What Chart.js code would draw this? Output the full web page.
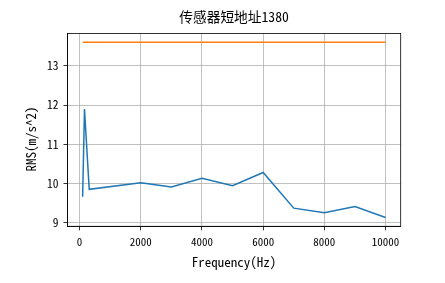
<!DOCTYPE html>
<html>
 <head>
  <title>传感器短地址1380</title>
  <style>
  body { margin: 0; background: #fff; }
  #wrap { width: 445px; height: 283px; }
  </style>
 </head>
 <body>
 <div id="wrap"><canvas id="chart-rms"></canvas></div>
 <script src="https://cdn.jsdelivr.net/npm/chart.js@4.4.0/dist/chart.umd.min.js"></script>
 <script>
 // values
 const freqs = [100, 160, 315, 2000, 3000, 4000, 5000, 6000, 7000, 8000, 9000, 10000];
 const rms = [9.66, 11.90, 9.85, 10.02, 9.91, 10.13, 9.94, 10.28, 9.37, 9.25, 9.41, 9.13];
 const limitFreqs = [100, 10000];
 const limitRms = [13.6, 13.6];
 const xTicks = [0, 2000, 4000, 6000, 8000, 10000];
 const yTicks = [9, 10, 11, 12, 13];
 const titleText = '传感器短地址1380';
 const xLabel = 'Frequency(Hz)';
 const yLabel = 'RMS(m/s^2)';

 // SimHei-like look: half-width monospace latin
 const fam = '"Noto Sans Mono CJK SC", "DejaVu Sans Mono", "Noto Sans CJK SC", monospace';

 // frame round the plot + title and y label, placed like matplotlib does
 const decor = {
  id: 'decor',
  afterDraw(chart) {
   const a = chart.chartArea, ctx = chart.ctx;
   ctx.save();
   ctx.strokeStyle = '#000';
   ctx.lineWidth = 0.8;
   ctx.strokeRect(a.left, a.top, a.right - a.left, a.bottom - a.top);
   ctx.fillStyle = '#000';
   ctx.textAlign = 'center';
   ctx.textBaseline = 'middle';
   ctx.font = '13.7px ' + fam;
   ctx.fillText(titleText, (a.left + a.right) / 2, 17);
   ctx.translate(31.5, 139);
   ctx.rotate(-Math.PI / 2);
   ctx.font = '13px ' + fam;
   ctx.fillText(yLabel, 0, 0);
   ctx.restore();
  }
 };

 const ctx = document.getElementById('chart-rms').getContext('2d');
 const chart = new Chart(ctx, {
  type: 'line',
  data: {
   datasets: [{
    data: freqs.map((f, i) => ({x: f, y: rms[i]})),
    borderColor: '#1f77b4',
    borderWidth: 1.5,
    pointRadius: 0,
    fill: false
   }, {
    data: limitFreqs.map((f, i) => ({x: f, y: limitRms[i]})),
    borderColor: '#ff7f0e',
    borderWidth: 1.5,
    pointRadius: 0,
    fill: false
   }]
  },
  options: {
   responsive: true,
   maintainAspectRatio: false,
   animation: false,
   devicePixelRatio: 1,
   layout: { padding: { left: 0, right: 44.3, top: 33.5, bottom: 0 } },
   plugins: {
    legend: { display: false },
    tooltip: { enabled: false },
    title: { display: false }
   },
   scales: {
    x: {
     type: 'linear',
     min: -395,
     max: 10495,
     afterBuildTicks: s => { s.ticks = xTicks.map(v => ({value: v})); },
     afterFit: s => { s.height = 56.7; },
     grid: { color: '#b0b0b0', lineWidth: 0.8, tickColor: '#000', tickLength: 4, drawTicks: true },
     border: { color: '#000', width: 0.8 },
     ticks: { color: '#000', padding: 5, maxRotation: 0, font: { family: fam, size: 11 }, callback: v => String(v) },
     title: { display: true, text: xLabel, color: '#000', font: { family: fam, size: 13, lineHeight: 1.2 }, padding: { top: 0, bottom: 13.5 } }
    },
    y: {
     type: 'linear',
     min: 8.9065,
     max: 13.8235,
     afterBuildTicks: s => { s.ticks = yTicks.map(v => ({value: v})); },
     afterFit: s => { s.width = 67.5; },
     grid: { color: '#b0b0b0', lineWidth: 0.8, tickColor: '#000', tickLength: 4, drawTicks: true },
     border: { color: '#000', width: 0.8 },
     ticks: { color: '#000', padding: 5, font: { family: fam, size: 11.5 }, callback: v => String(v) }
    }
   }
  },
  plugins: [decor]
 });
 </script>
 </body>
</html>
